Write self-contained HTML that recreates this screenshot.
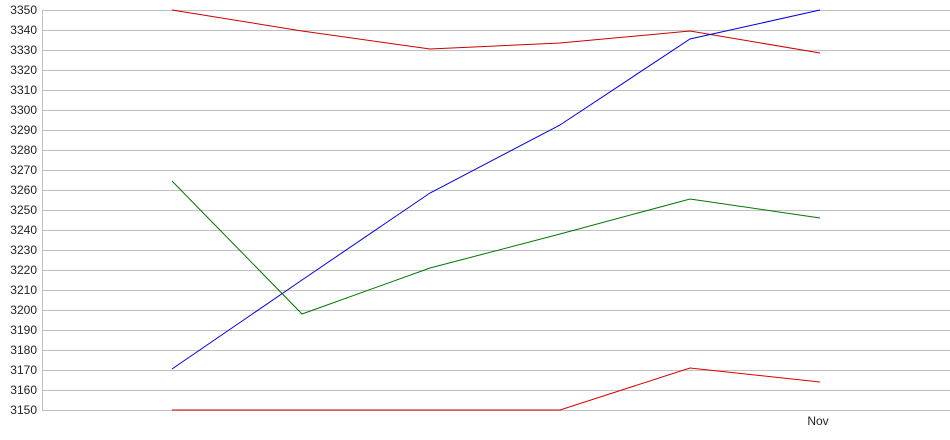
<!DOCTYPE html>
<html><head><style>body{margin:0;background:#fff}</style></head><body>
<svg width="950" height="435" xmlns="http://www.w3.org/2000/svg" font-family="Liberation Sans, sans-serif" font-size="12">
<g stroke="#c0c0c0" stroke-width="1">
<line x1="42" y1="10.5" x2="950" y2="10.5"/><line x1="42" y1="30.5" x2="950" y2="30.5"/><line x1="42" y1="50.5" x2="950" y2="50.5"/><line x1="42" y1="70.5" x2="950" y2="70.5"/><line x1="42" y1="90.5" x2="950" y2="90.5"/><line x1="42" y1="110.5" x2="950" y2="110.5"/><line x1="42" y1="130.5" x2="950" y2="130.5"/><line x1="42" y1="150.5" x2="950" y2="150.5"/><line x1="42" y1="170.5" x2="950" y2="170.5"/><line x1="42" y1="190.5" x2="950" y2="190.5"/><line x1="42" y1="210.5" x2="950" y2="210.5"/><line x1="42" y1="230.5" x2="950" y2="230.5"/><line x1="42" y1="250.5" x2="950" y2="250.5"/><line x1="42" y1="270.5" x2="950" y2="270.5"/><line x1="42" y1="290.5" x2="950" y2="290.5"/><line x1="42" y1="310.5" x2="950" y2="310.5"/><line x1="42" y1="330.5" x2="950" y2="330.5"/><line x1="42" y1="350.5" x2="950" y2="350.5"/><line x1="42" y1="370.5" x2="950" y2="370.5"/><line x1="42" y1="390.5" x2="950" y2="390.5"/><line x1="42" y1="410.5" x2="950" y2="410.5"/>
<line x1="42.5" y1="10" x2="42.5" y2="411"/>
</g>
<g fill="#222" text-anchor="end">
<text x="37" y="14">3350</text><text x="37" y="34">3340</text><text x="37" y="54">3330</text><text x="37" y="74">3320</text><text x="37" y="94">3310</text><text x="37" y="114">3300</text><text x="37" y="134">3290</text><text x="37" y="154">3280</text><text x="37" y="174">3270</text><text x="37" y="194">3260</text><text x="37" y="214">3250</text><text x="37" y="234">3240</text><text x="37" y="254">3230</text><text x="37" y="274">3220</text><text x="37" y="294">3210</text><text x="37" y="314">3200</text><text x="37" y="334">3190</text><text x="37" y="354">3180</text><text x="37" y="374">3170</text><text x="37" y="394">3160</text><text x="37" y="414">3150</text>
</g>
<text x="818" y="425" fill="#222" text-anchor="middle">Nov</text>
<g fill="none" stroke-width="1">
<polyline stroke="#cc0000" points="172,10 302,31 430,49 560,43 690,31 820,53"/>
<polyline stroke="#0000dd" points="172,369 302,280 430,193 560,125 690,39 820,10"/>
<polyline stroke="#007700" points="172,181 302,314 430,268 560,234 690,199 820,218"/>
<polyline stroke="#dd0000" points="172,410 302,410 430,410 560,410 690,368 820,382"/>
</g>
</svg>
</body></html>
